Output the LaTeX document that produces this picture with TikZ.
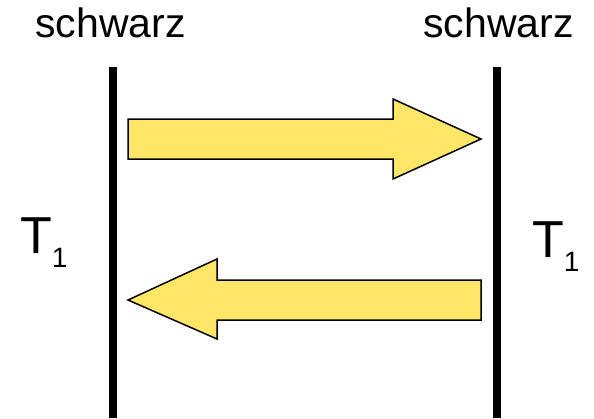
\documentclass[tikz,border=0pt]{standalone}
\usepackage{fontspec}
\setmainfont{Liberation Sans}
\definecolor{arrowyellow}{RGB}{255,230,102}
\tikzset{
  wall/.style={line width=8pt},
  fatarrow/.style={draw=black, line width=1.5pt, fill=arrowyellow, line join=miter},
  lbl/.style={inner sep=0pt, anchor=base, font=\fontsize{41}{45}\selectfont},
  tlbl/.style={inner sep=0pt, anchor=base west, font=\fontsize{52}{56}\selectfont}
}
\begin{document}
\begin{tikzpicture}[x=1pt,y=-1pt]
\useasboundingbox (0,0) rectangle (594,418);
% walls
\coordinate (lt) at (112.5,67);
\coordinate (lb) at (112.5,418);
\coordinate (rt) at (497,67);
\coordinate (rb) at (497,418);
\draw[wall] (lt) -- (lb);
\draw[wall] (rt) -- (rb);
% labels
\node[lbl] (sl) at (110.5,37) {schwarz};
\node[lbl] (sr) at (498.5,37) {schwarz};
\node[tlbl] (tl) at (20,253) {T\raisebox{-14pt}{\fontsize{28}{28}\selectfont 1}};
\node[tlbl] (tr) at (532,257) {T\raisebox{-14pt}{\fontsize{28}{28}\selectfont 1}};
% arrows
\draw[fatarrow] (128,119) -- (393,119) -- (393,99) -- (481,139) -- (393,179) -- (393,159) -- (128,159) -- cycle;
\draw[fatarrow] (481,280) -- (217,280) -- (217,259) -- (128,300) -- (217,339) -- (217,320) -- (481,320) -- cycle;
\end{tikzpicture}
\end{document}
